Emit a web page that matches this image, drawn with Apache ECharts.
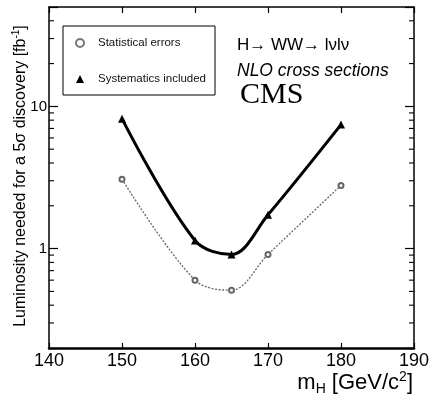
<!DOCTYPE html>
<html>
<head>
<meta charset="utf-8">
<style>
  html, body { margin: 0; padding: 0; background: #fff; }
  #chart { width: 432px; height: 403px; }
</style>
<script src="https://cdn.jsdelivr.net/npm/echarts@6/dist/echarts.min.js"></script>
</head>
<body>
<div id="chart"></div>
<script>
/* Data */
const massPoints = [150, 160, 165, 170, 180];
const statErrors = [3.08, 0.60, 0.51, 0.91, 2.78];
const systIncluded = [8.2, 1.14, 0.91, 1.73, 7.45];
const xTicks = [140, 150, 160, 170, 180, 190];
const yMinorTicks = [0.3, 0.4, 0.5, 0.6, 0.7, 0.8, 0.9, 2, 3, 4, 5, 6, 7, 8, 9, 20, 30, 40];

const SANS = "'Liberation Sans', Arial, Helvetica, sans-serif";

function pairs(xs, ys) { return xs.map((x, i) => [x, ys[i]]); }

const chart = echarts.init(document.getElementById("chart"));

const option = {
  backgroundColor: "#fff",
  animation: false,
  grid: { left: 49, right: 18, top: 7, bottom: 55, outerBoundsMode: "none" },
  legend: {
    orient: "vertical",
    left: 63, top: 26,
    padding: [11, 9, 10, 12],
    itemGap: 24,
    itemWidth: 8, itemHeight: 8,
    borderColor: "#000", borderWidth: 1,
    backgroundColor: "#fff",
    selectedMode: false,
    textStyle: { fontFamily: SANS, fontSize: 11.5, color: "#111", padding: [0, 0, 0, 9] },
    data: [
      { name: "Statistical errors", icon: "emptyCircle", itemStyle: { color: "#777", borderColor: "#777", borderWidth: 1 } },
      { name: "Systematics included", icon: "triangle", itemStyle: { color: "#000" } }
    ]
  },
  xAxis: [
    {
      type: "value", min: 140, max: 190, interval: 10,
      axisLine: { show: true, onZero: false, lineStyle: { color: "#000", width: 2.5 } },
      axisTick: { inside: true, length: 5, lineStyle: { color: "#000", width: 1.2 } },
      axisLabel: { margin: 4, fontFamily: SANS, fontSize: 18, color: "#000",
        formatter: v => xTicks.includes(v) ? String(v) : "" },
      splitLine: { show: false }
    },
    {
      type: "value", position: "top", min: 140, max: 190, interval: 10,
      axisLine: { show: true, onZero: false, lineStyle: { color: "#000", width: 1.5 } },
      axisTick: { inside: true, length: 6, lineStyle: { color: "#000", width: 1.2 } },
      axisLabel: { show: false },
      splitLine: { show: false }
    }
  ],
  yAxis: [
    {
      type: "log", logBase: 10, min: 0.2, max: 50,
      axisLine: { show: true, onZero: false, lineStyle: { color: "#000", width: 1.5 } },
      axisTick: { inside: true, length: 9, lineStyle: { color: "#000", width: 1.2 } },
      axisLabel: { margin: 2, fontFamily: SANS, fontSize: 15, color: "#000",
        formatter: v => Math.abs(v - 1) < 1e-9 ? "1" : Math.abs(v - 10) < 1e-7 ? "10" : "" },
      splitLine: { show: false }
    },
    {
      type: "log", logBase: 10, min: 0.2, max: 50, position: "right",
      axisLine: { show: true, onZero: false, lineStyle: { color: "#000", width: 1.5 } },
      axisTick: { inside: true, length: 9, lineStyle: { color: "#000", width: 1.2 } },
      axisLabel: { show: false },
      splitLine: { show: false }
    }
  ],
  series: [
    {
      name: "Statistical errors",
      type: "line",
      smooth: 0.35,
      data: pairs(massPoints, statErrors),
      symbol: "emptyCircle", symbolSize: 5,
      itemStyle: { color: "#666", borderWidth: 1.3 },
      lineStyle: { color: "#666", width: 1.3, type: [2, 1.5] },
      z: 3
    },
    {
      name: "Systematics included",
      type: "line",
      smooth: 0.35,
      data: pairs(massPoints, systIncluded),
      symbol: "triangle", symbolSize: 8,
      itemStyle: { color: "#000" },
      lineStyle: { color: "#000", width: 3 },
      z: 4
    },
    {
      // log-scale minor ticks on both y axes
      type: "custom",
      silent: true,
      data: yMinorTicks.map(v => [140, v]),
      renderItem: (params, api) => {
        const v = api.value(1);
        const l = api.coord([140, v]);
        const r = api.coord([190, v]);
        const style = { stroke: "#000", lineWidth: 1.1 };
        return {
          type: "group",
          children: [
            { type: "line", shape: { x1: l[0], y1: l[1], x2: l[0] + 5, y2: l[1] }, style },
            { type: "line", shape: { x1: r[0], y1: r[1], x2: r[0] - 5, y2: r[1] }, style }
          ]
        };
      },
      z: 2
    }
  ],
  graphic: [
    // y-axis title, rotated
    { type: "text", x: 21, y: 176, rotation: Math.PI / 2,
      style: {
        text: "{t|Luminosity needed for a 5σ discovery [fb}{s|-1}{t|]}",
        align: "center", verticalAlign: "middle",
        rich: {
          t: { fontFamily: SANS, fontSize: 16, color: "#000", lineHeight: 20 },
          s: { fontFamily: SANS, fontSize: 10, color: "#000", lineHeight: 10, verticalAlign: "top" }
        }
      } },
    { type: "text", left: 237, top: 37,
      style: { text: "H→ WW→ lνlν", font: "17px " + SANS, fill: "#000" } },
    { type: "text", left: 237, top: 62,
      style: { text: "NLO cross sections", font: "italic 17.5px " + SANS, fill: "#000" } },
    { type: "text", left: 240, top: 80,
      style: { text: "CMS", font: "30px 'Liberation Serif', 'DejaVu Serif', serif", fill: "#000" } },
    { type: "text", right: 19, top: 370,
      style: {
        text: "{m|m}{sub|H}{m| [GeV/c}{sup|2}{m|]}",
        rich: {
          m: { fontFamily: SANS, fontSize: 22, color: "#000", lineHeight: 26 },
          sub: { fontFamily: SANS, fontSize: 14, color: "#000", lineHeight: 14, verticalAlign: "bottom" },
          sup: { fontFamily: SANS, fontSize: 14, color: "#000", lineHeight: 14, verticalAlign: "top" }
        }
      } }
  ]
};

chart.setOption(option);
</script>
</body>
</html>
